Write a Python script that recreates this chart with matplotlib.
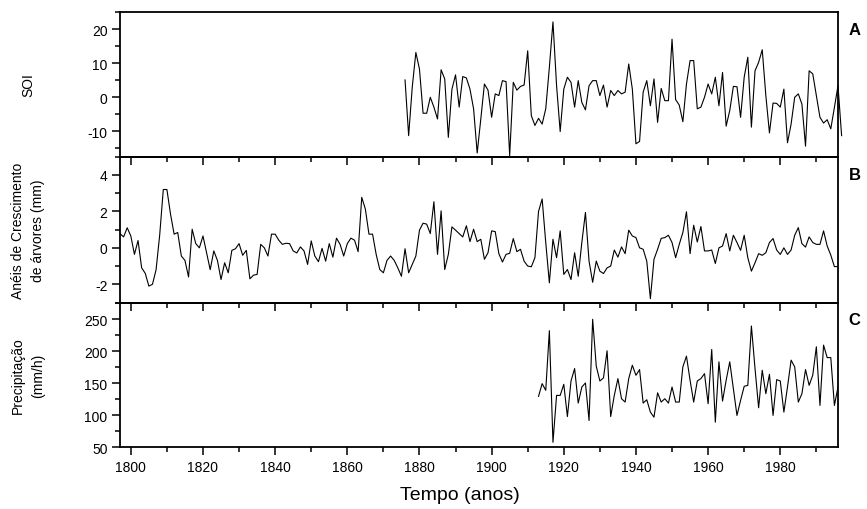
import matplotlib
matplotlib.use("Agg")
import matplotlib.pyplot as plt
import numpy as np
from matplotlib.ticker import MultipleLocator

plt.rcParams["font.family"] = ["Liberation Sans", "DejaVu Sans"]
plt.rcParams["axes.unicode_minus"] = False

# Indice de Oscilacao Sul, 1876-1997
soi_start = 1876
soi = [
    5.1, -11.3, 3.0, 13.2, 8.3, -4.7, -4.7, 0.0, -2.9, -6.4,
    8.1, 5.4, -11.8, 2.4, 6.6, -2.9, 6.1, 5.7, 2.4, -3.4,
    -16.4, -6.4, 3.9, 2.1, -5.9, 1.0, 0.5, 4.9, 4.6, -17.2,
    4.4, 2.1, 3.2, 3.6, 13.7, -5.4, -8.3, -6.2, -7.9, -3.4,
    8.8, 22.2, 3.4, -10.1, 2.4, 5.9, 4.4, -2.9, 4.9, -1.5,
    -3.7, 3.4, 4.9, 4.9, 0.5, 3.6, -2.9, 2.0, 0.5, 2.0,
    1.0, 1.5, 9.8, 2.4, -13.7, -13.0, 1.5, 4.9, -2.5, 5.4,
    -7.4, 2.6, -1.0, -1.0, 17.1, -0.7, -2.3, -7.2, 3.9, 10.8,
    10.8, -3.4, -2.9, 0.0, 3.9, 1.0, 5.9, -2.5, 7.3, -8.5,
    -3.9, 3.2, 3.1, -5.9, 5.9, 11.8, -8.8, 7.8, 10.3, 14.0,
    0.5, -10.5, -1.7, -1.8, -2.9, 2.4, -13.4, -7.9, 0.0, 1.0,
    -2.0, -14.4, 7.8, 6.9, 0.5, -5.9, -7.6, -6.6, -9.3, -3.0,
    3.4, -11.3,
]

# aneis de crescimento, 1797-1996
rings_start = 1797
rings = [
    0.78, 0.60, 1.10, 0.65, -0.36, 0.40, -1.10, -1.40, -2.10, -2.00,
    -1.20, 0.70, 3.20, 3.20, 1.85, 0.75, 0.84, -0.45, -0.69, -1.60,
    1.02, 0.23, 0.00, 0.65, -0.27, -1.20, -0.17, -0.69, -1.74, -0.82,
    -1.37, -0.14, -0.05, 0.23, -0.41, -0.14, -1.70, -1.50, -1.46, 0.19,
    0.00, -0.45, 0.75, 0.75, 0.42, 0.19, 0.25, 0.23, -0.17, -0.28,
    0.05, -0.17, -0.91, 0.38, -0.45, -0.76, -0.03, -0.73, 0.23, -0.51,
    0.53, 0.19, -0.45, 0.23, 0.53, 0.42, -0.21, 2.77, 2.13, 0.75,
    0.75, -0.36, -1.19, -1.37, -0.69, -0.45, -0.69, -1.10, -1.56, -0.05,
    -1.37, -0.91, -0.45, 0.97, 1.35, 1.30, 0.78, 2.53, -0.36, 2.03,
    -1.19, -0.36, 1.15, 0.97, 0.78, 0.60, 1.21, 0.34, 1.02, 0.34,
    0.47, -0.63, -0.27, 0.93, 0.89, -0.32, -0.78, -0.36, -0.30, 0.51,
    -0.21, -0.08, -0.73, -1.00, -1.04, -0.54, 2.00, 2.68, 0.29, -1.92,
    0.47, -0.54, 0.93, -1.46, -1.19, -1.74, -0.27, -1.56, 0.29, 1.94,
    -0.73, -1.89, -0.73, -1.28, -1.41, -1.10, -1.00, -0.12, -0.51, 0.05,
    -0.32, 0.97, 0.65, 0.56, 0.00, -0.08, -0.73, -2.79, -0.63, -0.08,
    0.52, 0.56, 0.69, 0.29, -0.54, 0.19, 0.84, 1.98, -0.32, 1.24,
    0.32, 1.17, -0.17, -0.17, -0.12, -0.86, 0.00, 0.10, 0.78, -0.17,
    0.69, 0.29, -0.14, 0.69, -0.54, -1.28, -0.82, -0.32, -0.41, -0.27,
    0.29, 0.51, -0.12, -0.36, 0.00, -0.36, -0.12, 0.69, 1.11, 0.23,
    0.04, 0.60, 0.29, 0.19, 0.19, 0.93, 0.10, -0.40, -1.03, -1.03,
]

# precipitacao, 1913-1996
prec_start = 1913
prec = [
    129.5, 149.4, 138.9, 232.0, 57.8, 131.0, 131.0, 148.3, 98.0, 153.5,
    172.9, 119.0, 144.1, 150.4, 91.8, 249.8, 176.6, 153.5, 158.3, 200.6,
    98.0, 131.0, 157.2, 125.8, 120.6, 157.2, 178.1, 162.4, 171.3, 119.0,
    124.2, 105.0, 97.0, 135.0, 120.6, 125.8, 119.0, 144.1, 120.6, 120.6,
    175.5, 192.3, 154.6, 120.6, 153.5, 157.2, 165.0, 118.0, 202.7, 89.2,
    183.4, 122.2, 154.6, 183.4, 141.5, 99.7, 123.2, 145.2, 146.7, 239.3,
    172.9, 111.7, 170.3, 133.7, 164.0, 99.7, 155.6, 153.5, 104.9, 144.1,
    186.0, 175.5, 120.6, 133.7, 171.3, 146.7, 162.4, 206.9, 115.3, 209.5,
    190.0, 190.0, 115.3, 144.2,
]

ylabels = ["SOI", "Anéis de Crescimento\nde árvores (mm)", "Precipitação\n(mm/h)"]
letters = ["A", "B", "C"]


def years(start, values):
    return np.arange(start, start + len(values))


fig = plt.figure(figsize=(8.67, 5.10), dpi=100)
W, H = 867.0, 510.0
left, right = 120 / W, 838 / W
edges = [12.7, 157.7, 303.5, 448.3]

axes = []
for i in range(3):
    b = 1 - edges[i + 1] / H
    h = (edges[i + 1] - edges[i]) / H
    ax = fig.add_axes([left, b, right - left, h], sharex=axes[0] if axes else None)
    ax.patch.set_visible(False)
    axes.append(ax)

# upper panels on top so their bottom ticks show inside the panel below
for i, ax in enumerate(axes):
    ax.set_zorder(3 - i)

axes[0].plot(years(soi_start, soi), soi, color="black", lw=0.8, clip_on=False)
axes[1].plot(years(rings_start, rings), rings, color="black", lw=0.8)
axes[2].plot(years(prec_start, prec), prec, color="black", lw=0.8)

axes[0].set_ylim(-17.5, 25.2)
axes[0].yaxis.set_major_locator(MultipleLocator(10))
axes[0].yaxis.set_minor_locator(MultipleLocator(5))
axes[1].set_ylim(-3, 5)
axes[1].yaxis.set_major_locator(MultipleLocator(2))
axes[1].yaxis.set_minor_locator(MultipleLocator(1))
axes[2].set_ylim(50, 276)
axes[2].yaxis.set_major_locator(MultipleLocator(50))
axes[2].yaxis.set_minor_locator(MultipleLocator(25))

axes[0].set_xlim(1797, 1996)
axes[0].xaxis.set_major_locator(MultipleLocator(20))
axes[0].xaxis.set_minor_locator(MultipleLocator(10))

for i, ax in enumerate(axes):
    for s in ax.spines.values():
        s.set_linewidth(1.3)
    ax.tick_params(which="major", direction="out", length=6, width=1.1, labelsize=10, pad=3)
    ax.tick_params(which="minor", direction="out", length=3.5, width=1.1)
    ax.tick_params(axis="x", labelbottom=(i == 2))
    ax.text(-0.128, 0.5, ylabels[i], transform=ax.transAxes, rotation=90,
            ha="center", va="center", multialignment="center", fontsize=10,
            linespacing=1.5)
    ax.text(1.023, 0.88, letters[i], transform=ax.transAxes, fontsize=12,
            fontweight="bold", ha="center", va="center")

axes[2].set_xlabel("Tempo (anos)", fontsize=14)
axes[2].xaxis.set_label_coords(0.474, -0.27)

fig.savefig("out.png", dpi=100)
